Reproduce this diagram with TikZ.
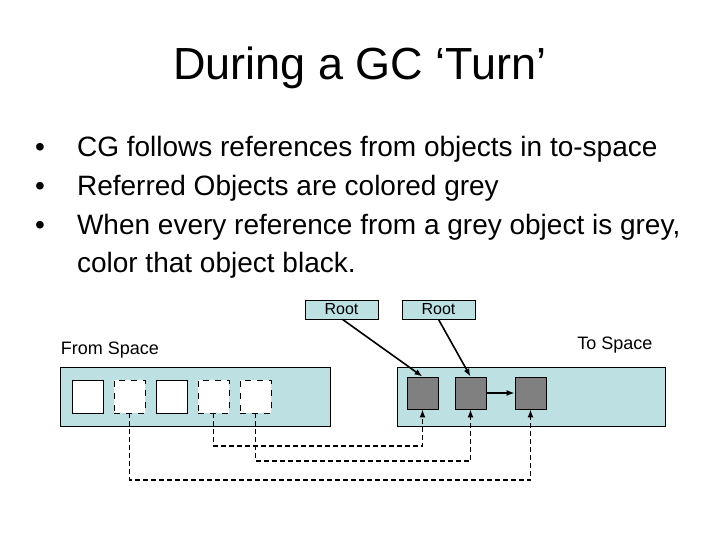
\documentclass[tikz,border=0pt]{standalone}
\usepackage{fontspec}
\setmainfont{Liberation Sans}
\usetikzlibrary{arrows.meta}
\definecolor{gcfill}{RGB}{189,224,227}
\tikzset{
  space/.style={draw,fill=gcfill},
  obj/.style={draw,fill=white,minimum width=15.5pt,minimum height=16.5pt,inner sep=0pt},
  grey/.style={draw,fill=gray,minimum width=15.5pt,minimum height=16pt,inner sep=0pt},
  rootbox/.style={draw,fill=gcfill,minimum width=36.5pt,minimum height=9.5pt,inner sep=0pt,font=\fontsize{8}{9}\selectfont},
  lbl/.style={font=\fontsize{9}{10}\selectfont},
  bul/.style={anchor=base west,font=\fontsize{14}{16}\selectfont},
  ref/.style={-{Latex[length=4pt,width=3pt]},thick},
  fwd/.style={-{Latex[length=4pt,width=3pt]},thick,dash pattern=on 2.5pt off 1.5pt},
}
\begin{document}
\begin{tikzpicture}[x=0.5pt,y=-0.5pt]
  \useasboundingbox[fill=white] (0,0) rectangle (720,540);
  %title
  \node[font=\fontsize{22.5}{26}\selectfont] (title) at (360,68) {During a GC ‘Turn’};
  %bullets
  \foreach \y/\t in {148/CG follows references from objects in to-space,
                     187/Referred Objects are colored grey,
                     226/{When every reference from a grey object is grey,}}
  {
    \node[bul] at (28,\y+9) {•};
    \node[bul] at (70,\y+9) {\t};
  }
  \node[bul] (last) at (70,273) {color that object black.};

  %spaces
  \draw[space] (60,367) rectangle (330,426);
  \draw[space] (397,367) rectangle (665,426);
  \node[lbl] (fromlbl) at (110,350) {From Space};
  \node[lbl] (tolbl) at (615,345) {To Space};

  %from-space objects
  \node[obj] (f1) at (87.5,396.5) {};
  \node[obj,dashed] (f2) at (129.5,396.5) {};
  \node[obj] (f3) at (171.5,396.5) {};
  \node[obj,dashed] (f4) at (213.5,396.5) {};
  \node[obj,dashed] (f5) at (255.5,396.5) {};

  %to-space objects
  \node[grey] (t1) at (422.5,393) {};
  \node[grey] (t2) at (470.5,393) {};
  \node[grey] (t3) at (530.5,393) {};

  %roots
  \node[rootbox] (r1) at (341.5,309.5) {Root};
  \node[rootbox] (r2) at (438.5,309.5) {Root};
  \draw[ref] (r1.south) ++(1,0) -- (t1.north);
  \draw[ref] (r2.south) -- (t2.north);
  \draw[ref] (t2.east) -- (t3.west);

  %forwarding
  \draw[fwd] (f4.south) |- (422.5,446) -- (t1.south);
  \draw[fwd] (f5.south) |- (470.5,461) -- (t2.south);
  \draw[fwd] (f2.south) |- (530.5,480) -- (t3.south);
\end{tikzpicture}
\end{document}
